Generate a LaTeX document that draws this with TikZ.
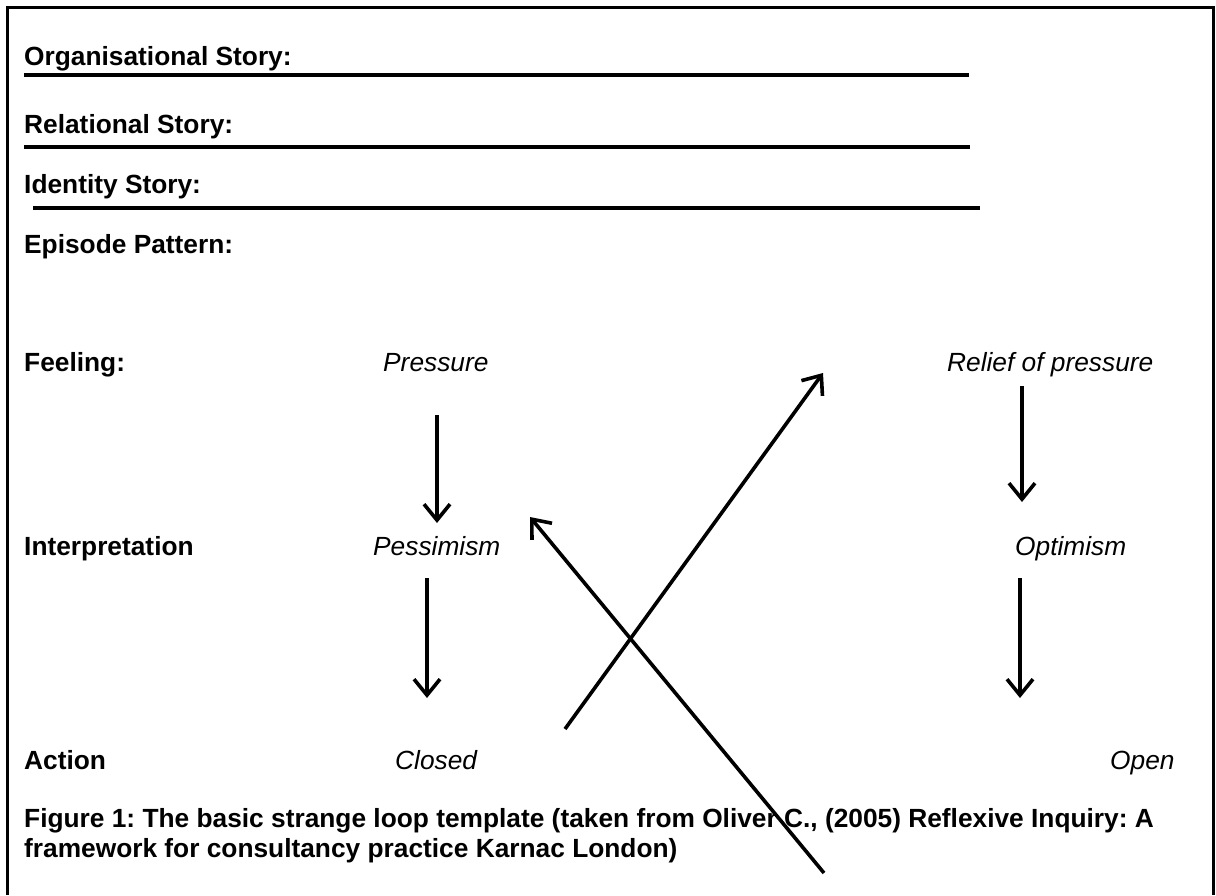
\documentclass[tikz,border=0pt]{standalone}
\usepackage{fontspec}
\setmainfont{Liberation Sans}
\usetikzlibrary{arrows.meta}
\frenchspacing
\begin{document}
\begin{tikzpicture}[x=1pt,y=-1pt,
  lbl/.style={font=\fontsize{26.3}{30}\selectfont\bfseries\frenchspacing, anchor=base west, inner sep=0pt},
  itl/.style={font=\fontsize{26.3}{30}\selectfont\itshape, anchor=base west, inner sep=0pt},
  rule/.style={line width=4pt},
  flow/.style={line width=3.6pt, -{Straight Barb[length=16pt, width=26pt]}},
  frame/.style={line width=3pt}]
\useasboundingbox (0,0) rectangle (1216,895);
\draw[frame] (7,895) -- (7,7) -- (1213,7) -- (1213,895);

\node[lbl] (org) at (24,65) {Organisational Story:};
\node[lbl] (rel) at (24,133) {Relational Story:};
\node[lbl] (idn) at (24,193) {Identity Story:};
\node[lbl] (epi) at (24,253) {Episode Pattern:};
\node[lbl] (feel) at (24,371) {Feeling:};
\node[lbl] (interp) at (24,555) {Interpretation};
\node[lbl] (act) at (24,769) {Action};

\draw[rule] (24,75) -- (969,75);
\draw[rule] (24,147) -- (970,147);
\draw[rule] (33,208) -- (980,208);

\node[itl] (press) at (383,371) {Pressure};
\node[itl] (relief) at (947,371) {Relief of pressure};
\node[itl] (pess) at (373,555) {Pessimism};
\node[itl] (opt) at (1015,555) {Optimism};
\node[itl] (closed) at (395,769) {Closed};
\node[itl] (open) at (1110,769) {Open};

\node[lbl] (cap1) at (24,827) {Figure 1: The basic strange loop template (taken from Oliver C., (2005) Reflexive Inquiry: A};
\node[lbl] (cap2) at (24,857) {framework for consultancy practice Karnac London)};

\coordinate (a1s) at (437,415); \coordinate (a1e) at (437,523);
\coordinate (a2s) at (1022,386); \coordinate (a2e) at (1022,502);
\coordinate (a3s) at (427,578); \coordinate (a3e) at (427,698);
\coordinate (a4s) at (1020,578); \coordinate (a4e) at (1020,698);
\coordinate (xas) at (565,729); \coordinate (xae) at (823,373);
\coordinate (xbs) at (824,873); \coordinate (xbe) at (530,517);

\draw[flow] (a1s) -- (a1e);
\draw[flow] (a2s) -- (a2e);
\draw[flow] (a3s) -- (a3e);
\draw[flow] (a4s) -- (a4e);
\draw[flow] (xas) -- (xae);
\draw[flow] (xbs) -- (xbe);
\end{tikzpicture}
\end{document}
